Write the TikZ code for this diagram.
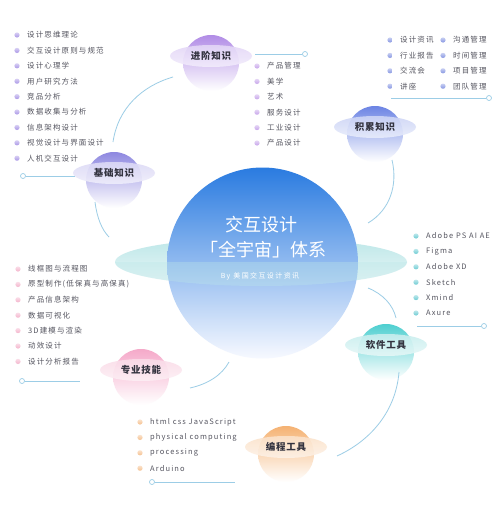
\documentclass[tikz,border=0pt]{standalone}
\usepackage{fontspec}
\setmainfont{Noto Sans CJK SC}
\newfontfamily\listfont[LetterSpace=15]{Noto Sans CJK SC}
\newfontfamily\subfont[LetterSpace=20]{Noto Sans CJK SC}
\newfontfamily\planetfont[LetterSpace=8]{Noto Sans CJK SC}
\definecolor{conncol}{HTML}{9CCDE6}
\definecolor{listtext}{HTML}{555560}
\definecolor{labeltext}{HTML}{33333F}
\definecolor{bigtop}{HTML}{2A7BE0}
\definecolor{bigmid}{HTML}{80B3F0}
\definecolor{bigbot}{HTML}{F7F9FF}
\definecolor{ringtop}{HTML}{BDE7E8}
\definecolor{ringbot}{HTML}{EAF7F8}
\definecolor{pA}{HTML}{B18CE6}\definecolor{rA}{HTML}{E3D6F7}
\definecolor{pB}{HTML}{8E88E0}\definecolor{rB}{HTML}{DCD9F6}
\definecolor{pC}{HTML}{6C84E4}\definecolor{rC}{HTML}{CDD5F6}
\definecolor{pD}{HTML}{4FCFD0}\definecolor{rD}{HTML}{C8EEEE}
\definecolor{pE}{HTML}{F5A9C9}\definecolor{rE}{HTML}{FADCE8}
\definecolor{pF}{HTML}{F5B273}\definecolor{rF}{HTML}{FBE2CA}
\definecolor{bA}{HTML}{A996E6}
\definecolor{bB}{HTML}{C6A4EA}
\definecolor{bC}{HTML}{8595E2}
\definecolor{bD}{HTML}{6CCBD3}
\definecolor{bE}{HTML}{F4B4CC}
\definecolor{bF}{HTML}{F5C08E}
\tikzset{
  listitem/.style={anchor=west, inner sep=0pt, text=listtext, font=\listfont\fontsize{7.5}{9}\selectfont},
  planetlabel/.style={inner sep=1pt, text=labeltext, font=\planetfont\bfseries\fontsize{9.5}{11}\selectfont},
  conn/.style={draw=conncol, line width=0.8pt},
  enddot/.style={draw=conncol, fill=white, line width=0.7pt, circle, inner sep=0pt, minimum size=5pt},
}
\newcommand{\myplanet}[6]{%
  \shade[top color=#4, middle color=#4!18!white, bottom color=white] (#2,#3+7) circle[radius=28];
  \shade[top color=#5, bottom color=#5!45!white, opacity=0.9] (#2,#3) ellipse[x radius=41, y radius=11];
  \node[planetlabel] (#1) at (#2,#3) {#6};
}
\newcommand{\mylist}[6]{% name, x, y0, bullet colour, items, dummy
  \foreach \t [count=\i] in {#5} {
    \shade[top color=#4!45!white, bottom color=#4] (#2-10,#3+15.4*\i-15.4) circle[radius=2.6];
    \node[listitem] (#1-\i) at (#2,#3+15.4*\i-15.4) {\t};
  }
}
\begin{document}
\begin{tikzpicture}[x=1pt,y=-1pt]
\useasboundingbox (0,0) rectangle (500,509);
\fill[white] (0,0) rectangle (500,509);

% central planet
\shade[top color=ringtop, bottom color=ringbot] (261,262) ellipse[x radius=146, y radius=24];
\shade[top color=bigtop, middle color=bigmid, bottom color=bigbot] (262.5,263) circle[radius=95.5];
\begin{scope}
  \clip (100,262) rectangle (420,295);
  \fill[ringtop, opacity=0.35] (261,262) ellipse[x radius=146, y radius=24];
\end{scope}
\node[text=white, font=\fontsize{18}{20}\selectfont, inner sep=0pt] (title1) at (261,225) {交互设计};
\node[text=white, font=\fontsize{18}{20}\selectfont, inner sep=0pt] (title2) at (263,250) {「全宇宙」体系};
\node[text=white, font=\subfont\fontsize{7}{8}\selectfont, inner sep=0pt] (title3) at (260,276) {By 美国交互设计资讯};

% small planets
\myplanet{jinjie}{211}{56}{pA}{rA}{进阶知识}
\myplanet{jichu}{114}{173}{pB}{rB}{基础知识}
\myplanet{jilei}{375}{127}{pC}{rC}{积累知识}
\myplanet{ruanjian}{386}{345}{pD}{rD}{软件工具}
\myplanet{zhuanye}{141}{370}{pE}{rE}{专业技能}
\myplanet{biancheng}{286}{447}{pF}{rF}{编程工具}

% lists
\mylist{la}{27}{35}{bA}{设计思维理论,交互设计原则与规范,设计心理学,用户研究方法,竞品分析,数据收集与分析,信息架构设计,视觉设计与界面设计,人机交互设计}{}
\mylist{lb}{267}{66}{bB}{产品管理,美学,艺术,服务设计,工业设计,产品设计}{}
\mylist{lc}{400}{40}{bC}{设计资讯,行业报告,交流会,讲座}{}
\mylist{ld}{453}{40}{bC}{沟通管理,时间管理,项目管理,团队管理}{}
\mylist{le}{426}{236}{bD}{Adobe PS AI AE,Figma,Adobe XD,Sketch,Xmind,Axure}{}
\mylist{lf}{28}{269}{bE}{线框图与流程图,原型制作(低保真与高保真),产品信息架构,数据可视化,3D建模与渲染,动效设计,设计分析报告}{}
\mylist{lg}{150}{422}{bF}{html css JavaScript,physical computing,processing,Arduino}{}

% straight connectors with end dots
\node[enddot] (d1) at (23,176) {};
\coordinate (e1) at (75,176);
\draw[conn] (d1) -- (e1);
\node[enddot] (d2) at (305,54) {};
\coordinate (e2) at (255,54);
\draw[conn] (e2) -- (d2);
\node[enddot] (d3) at (489,98) {};
\coordinate (e3) at (391,98);
\draw[conn] (e3) -- (d3);
\node[enddot] (d4) at (484,326) {};
\coordinate (e4) at (417,326);
\draw[conn] (e4) -- (d4);
\node[enddot] (d5) at (22,381) {};
\coordinate (e5) at (80,381);
\draw[conn] (d5) -- (e5);
\node[enddot] (d6) at (152,482) {};
\coordinate (e6) at (235,482);
\draw[conn] (d6) -- (e6);

% curved connectors
\coordinate (c1a) at (113,142); \coordinate (c1b) at (173,77);
\draw[conn] (c1a) .. controls (118,108) and (142,86) .. (c1b);
\coordinate (c2a) at (392,160); \coordinate (c2b) at (368,223);
\draw[conn] (c2a) .. controls (398,185) and (390,210) .. (c2b);
\coordinate (c3a) at (368,288); \coordinate (c3b) at (396,318);
\draw[conn] (c3a) .. controls (383,294) and (393,305) .. (c3b);
\coordinate (c4a) at (190,388); \coordinate (c4b) at (229,362);
\draw[conn] (c4a) .. controls (208,384) and (222,375) .. (c4b);
\coordinate (c5a) at (399,372); \coordinate (c5b) at (337,456);
\draw[conn] (c5a) .. controls (396,410) and (372,440) .. (c5b);
\coordinate (c0a) at (95,202); \coordinate (c0b) at (109,237);
\draw[conn] (c0a) .. controls (97,218) and (102,230) .. (c0b);
\end{tikzpicture}
\end{document}
